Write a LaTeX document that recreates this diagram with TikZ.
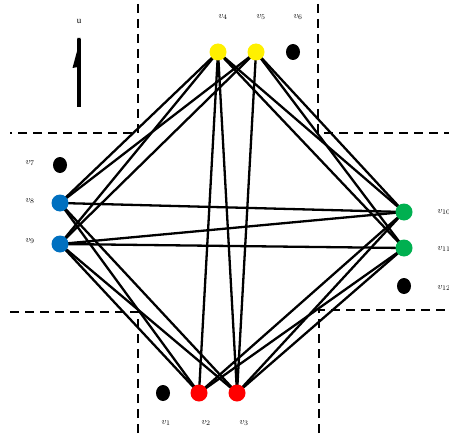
\documentclass[tikz,border=0pt]{standalone}
\usepackage{fontspec}
\setmainfont{Liberation Serif}
\usetikzlibrary{shapes.geometric}
\begin{document}
\begin{tikzpicture}[x=1pt,y=-1pt,
  vtx/.style={circle, fill=#1, inner sep=0pt, minimum size=17pt},
  bdot/.style={ellipse, fill=black, inner sep=0pt, minimum width=14pt, minimum height=16pt},
  lbl/.style={font=\fontsize{9.5}{10}\selectfont\itshape, inner sep=0pt},
  edge/.style={line width=2.3pt},
  cut/.style={line width=2.4pt, dash pattern=on 9pt off 6pt}]
\useasboundingbox (0,0) rectangle (449,433);
\definecolor{ylw}{RGB}{255,240,0}
\definecolor{blu}{RGB}{0,112,192}
\definecolor{grn}{RGB}{0,176,80}
\definecolor{rd}{RGB}{255,0,0}
% dashed partition lines
\coordinate (tl1) at (138,4); \coordinate (tl2) at (138,133); \coordinate (tl3) at (10,133);
\coordinate (tr1) at (318,4); \coordinate (tr2) at (318,133); \coordinate (tr3) at (449,133);
\coordinate (bl1) at (138,433); \coordinate (bl2) at (138,312); \coordinate (bl3) at (8,312);
\coordinate (br1) at (319,433); \coordinate (br2) at (319,310); \coordinate (br3) at (449,310);
\draw[cut] (tl1) -- (tl2) -- (tl3);
\draw[cut] (tr1) -- (tr2) -- (tr3);
\draw[cut] (bl1) -- (bl2) -- (bl3);
\draw[cut] (br1) -- (br2) -- (br3);
% vertex positions
\coordinate (y1) at (218,52);
\coordinate (y2) at (256,52);
\coordinate (b1) at (60,203);
\coordinate (b2) at (60,244);
\coordinate (g1) at (404,212);
\coordinate (g2) at (404,248);
\coordinate (r1) at (199,393);
\coordinate (r2) at (237,393);
% edges
\foreach \a in {y1,y2} \foreach \b in {b1,b2,g1,g2} \draw[edge] (\a) -- (\b);
\foreach \a in {b1,b2,g1,g2} \foreach \b in {r1,r2} \draw[edge] (\a) -- (\b);
\draw[edge] (y1) -- (r1);
\draw[edge] (y1) -- (r2);
\draw[edge] (y2) -- (r2);
\draw[edge] (b1) -- (g1);
\draw[edge] (b2) -- (g1);
\draw[edge] (b2) -- (g2);
% vertices on top
\node[vtx=ylw] (n4) at (y1) {};
\node[vtx=ylw] (n5) at (y2) {};
\node[vtx=blu] (n8) at (b1) {};
\node[vtx=blu] (n9) at (b2) {};
\node[vtx=grn] (n10) at (g1) {};
\node[vtx=grn] (n11) at (g2) {};
\node[vtx=rd] (n2) at (r1) {};
\node[vtx=rd] (n3) at (r2) {};
\node[bdot] (k6) at (293,52) {};
\node[bdot] (k7) at (60,165) {};
\node[bdot] (k12) at (404,286) {};
\node[bdot] (k1) at (163,393) {};
% labels
\node[lbl] (l4) at (223,17) {$v_4$};
\node[lbl] (l5) at (261,17) {$v_5$};
\node[lbl] (l6) at (298,17) {$v_6$};
\node[lbl] (l7) at (30,163) {$v_7$};
\node[lbl] (l8) at (30,201) {$v_8$};
\node[lbl] (l9) at (30,241) {$v_9$};
\node[lbl] (l10) at (444,212) {$v_{10}$};
\node[lbl] (l11) at (444,249) {$v_{11}$};
\node[lbl] (l12) at (444,288) {$v_{12}$};
\node[lbl] (l1) at (166,423) {$v_1$};
\node[lbl] (l2) at (206,423) {$v_2$};
\node[lbl] (l3) at (244,423) {$v_3$};
% direction arrow u
\node[font=\fontsize{9}{10}\selectfont, inner sep=0pt] (u) at (79,21) {u};
\coordinate (ab) at (79,107);
\coordinate (at) at (79,39);
\draw[line width=3.2pt] (ab) -- (at);
\fill (80.6,38) -- (72.5,68) -- (78,67) -- (77.4,38) -- cycle;
\end{tikzpicture}
\end{document}
